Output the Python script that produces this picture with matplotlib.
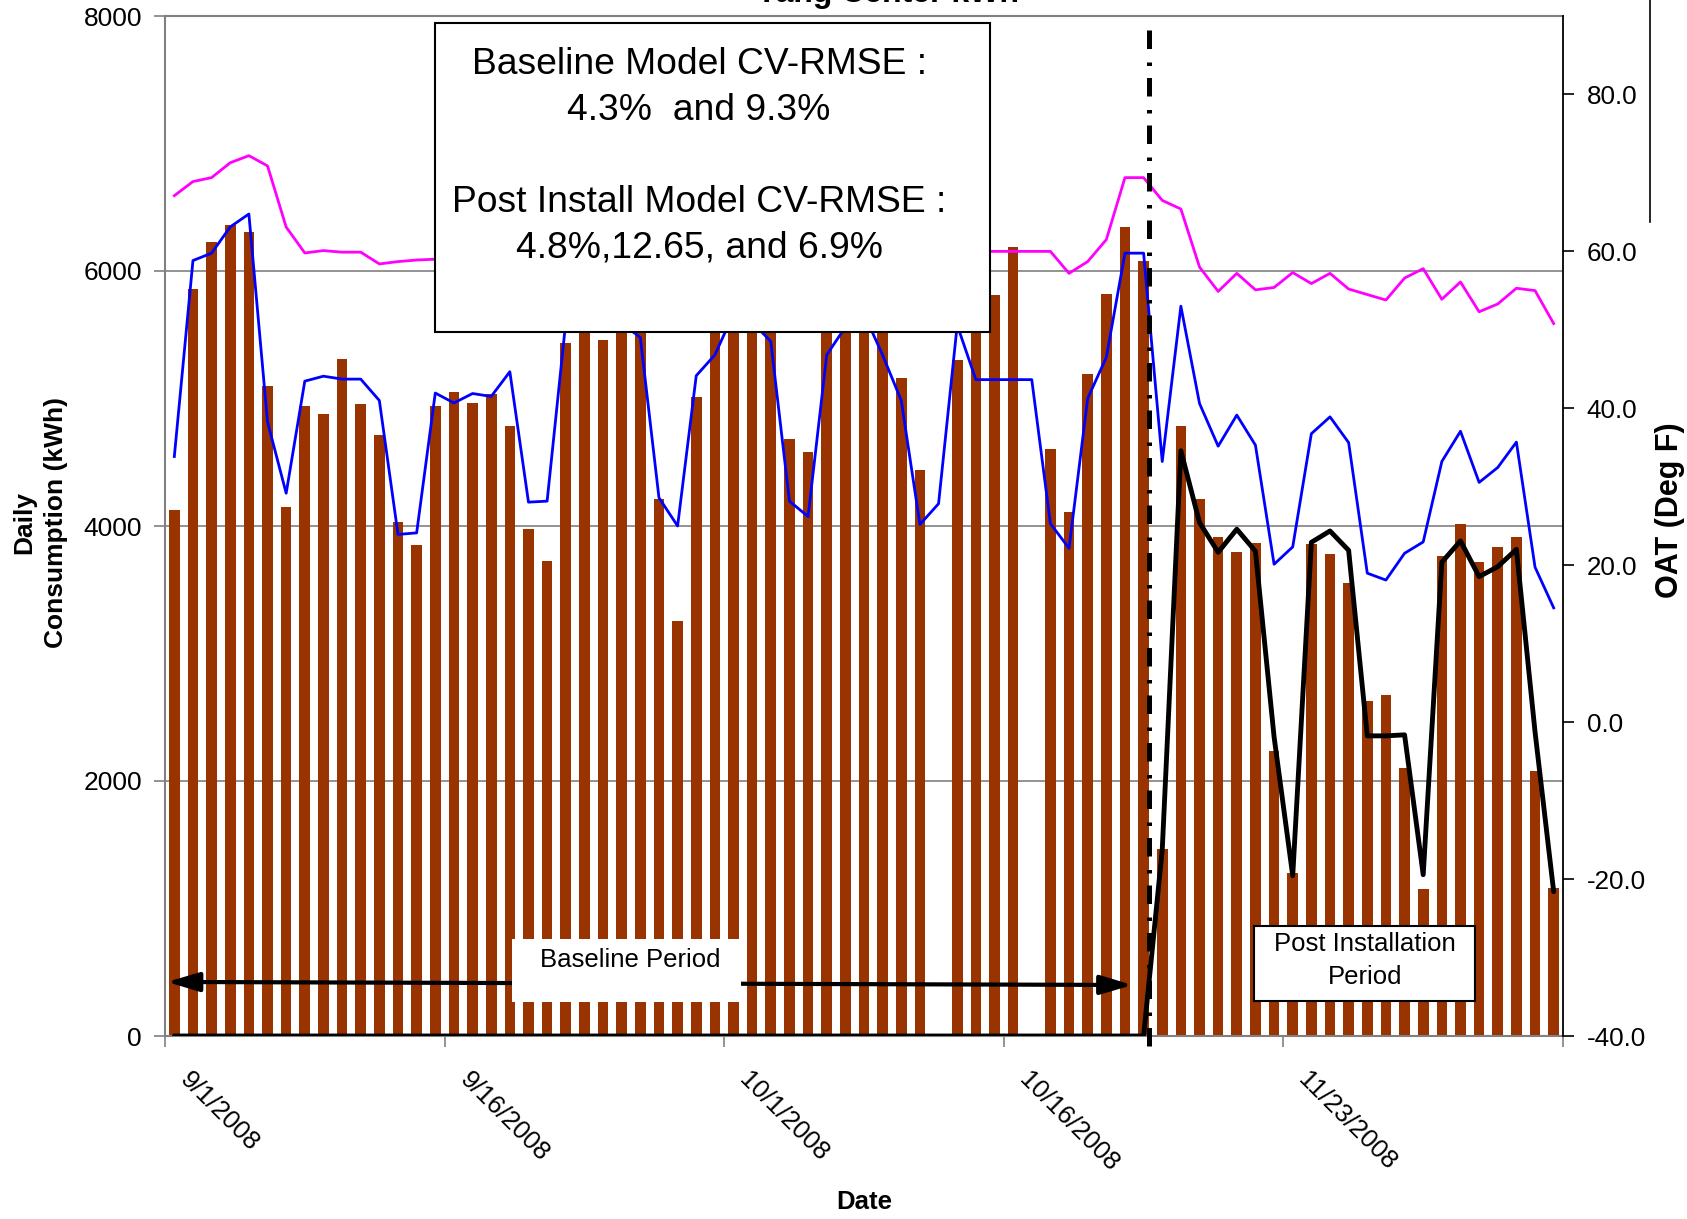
import numpy as np
import matplotlib
matplotlib.use("Agg")
import matplotlib.pyplot as plt
from matplotlib.patches import Rectangle
from matplotlib.lines import Line2D
import matplotlib.transforms as mtransforms

plt.rcParams['font.family'] = ['Liberation Sans', 'DejaVu Sans']
plt.rcParams['axes.unicode_minus'] = False

# ---------------- data ----------------
dates = [
    "9/1/2008", "9/2/2008", "9/3/2008", "9/4/2008", "9/5/2008", "9/6/2008", "9/7/2008",
    "9/8/2008", "9/9/2008", "9/10/2008", "9/11/2008", "9/12/2008", "9/13/2008", "9/14/2008",
    "9/15/2008", "9/16/2008", "9/17/2008", "9/18/2008", "9/19/2008", "9/20/2008", "9/21/2008",
    "9/22/2008", "9/23/2008", "9/24/2008", "9/25/2008", "9/26/2008", "9/27/2008", "9/28/2008",
    "9/29/2008", "9/30/2008", "10/1/2008", "10/2/2008", "10/3/2008", "10/4/2008", "10/5/2008",
    "10/6/2008", "10/7/2008", "10/8/2008", "10/9/2008", "10/10/2008", "10/11/2008", "10/12/2008",
    "10/13/2008", "10/14/2008", "10/15/2008", "10/16/2008", "10/17/2008", "10/18/2008", "10/19/2008",
    "10/20/2008", "10/21/2008", "10/22/2008", "10/23/2008",
    "11/16/2008", "11/17/2008", "11/18/2008", "11/19/2008", "11/20/2008", "11/21/2008", "11/22/2008",
    "11/23/2008", "11/24/2008", "11/25/2008", "11/26/2008", "11/27/2008", "11/28/2008", "11/29/2008",
    "11/30/2008", "12/1/2008", "12/2/2008", "12/3/2008", "12/4/2008", "12/5/2008", "12/6/2008",
    "12/7/2008",
]
tick_dates = ["9/1/2008", "9/16/2008", "10/1/2008", "10/16/2008", "11/23/2008"]

actual_kwh = [
    4125, 5860, 6226, 6362, 6307, 5097, 4148, 4942, 4879, 5307,
    4957, 4716, 4031, 3852, 4942, 5051, 4965, 5035, 4786, 3973,
    3724, 5432, 5700, 5459, 5650, 5600, 4214, 3257, 5008, 5750,
    5850, 5800, 5650, 4681, 4580, 5700, 5900, 5800, 5600, 5163,
    4436, None, 5300, 5600, 5813, 6187, None, 4607, 4109, 5191,
    5821, 6346, 6078, 1463, 4786, 4210, 3914, 3798, 3864, 2237,
    1276, 3856, 3782, 3556, 2626, 2677, 2101, 1156, 3767, 4012,
    3720, 3833, 3914, 2078, 1160,
]
baseline_model_kwh = [
    4545, 6082, 6140, 6346, 6447, 4817, 4257, 5136, 5175, 5152,
    5152, 4984, 3934, 3946, 5043, 4965, 5039, 5016, 5210, 4187,
    4195, 5600, 5800, 5750, 5590, 5479, 4222, 4000, 5179, 5342,
    5665, 5600, 5447, 4195, 4074, 5342, 5560, 5665, 5340, 4984,
    4012, 4175, 5576, 5148, 5148, 5148, 5148, 4019, 3825, 5000,
    5323, 6140, 6140, 4506, 5724, 4961, 4626, 4870, 4634, 3700,
    3836, 4724, 4856, 4654, 3630, 3576, 3786, 3875, 4506, 4743,
    4342, 4459, 4658, 3677, 3358,
]
post_model_kwh = [
    0, 0, 0, 0, 0, 0, 0, 0, 0, 0,
    0, 0, 0, 0, 0, 0, 0, 0, 0, 0,
    0, 0, 0, 0, 0, 0, 0, 0, 0, 0,
    0, 0, 0, 0, 0, 0, 0, 0, 0, 0,
    0, 0, 0, 0, 0, 0, 0, 0, 0, 0,
    0, 0, 0, 1460, 4590, 4027, 3794, 3975, 3802, 2346,
    1257, 3872, 3961, 3809, 2354, 2354, 2362, 1265, 3716, 3883,
    3603, 3681, 3817, 2385, 1132,
]
oat_degf = [
    67.1, 68.9, 69.4, 71.3, 72.2, 70.9, 63.1, 59.8, 60.1, 59.9,
    59.9, 58.4, 58.7, 58.9, 59.0, 59.3, 60.2, 61.0, 62.1, 60.4,
    58.9, 60.7, 62.0, 61.4, 60.8, 59.6, 57.7, 56.9, 59.2, 61.3,
    62.5, 61.8, 59.7, 58.3, 57.6, 59.4, 61.2, 60.9, 59.8, 58.1,
    57.3, 58.6, 60.4, 60.0, 60.0, 60.0, 60.0, 60.0, 57.2, 58.7,
    61.5, 69.4, 69.4, 66.5, 65.4, 58.0, 54.9, 57.2, 55.1, 55.4,
    57.3, 55.9, 57.2, 55.2, 54.5, 53.8, 56.6, 57.8, 53.9, 56.1,
    52.3, 53.3, 55.3, 55.0, 50.8,
]
left_ticks = [0, 2000, 4000, 6000, 8000]
right_ticks = [-40, -20, 0, 20, 40, 60, 80]

# ---------------- layout helpers ----------------
W, H, DPI = 1687, 1219, 100


def fx(px):
    return px / W


def fy(py):
    return 1 - py / H


fig = plt.figure(figsize=(W / DPI, H / DPI), dpi=DPI)
ax = fig.add_axes([fx(165), fy(1036), fx(1563) - fx(165), fy(16) - fy(1036)])

x = np.arange(len(dates))
bar_vals = np.array([np.nan if v is None else v for v in actual_kwh], dtype=float)
ax.bar(x, bar_vals, width=0.57, color='#993300', linewidth=0, zorder=2)
ax.plot(x, baseline_model_kwh, color='#0000FF', lw=2.0, zorder=3,
        solid_joinstyle='round')
ax.plot(x, post_model_kwh, color='black', lw=3.5, zorder=4,
        solid_joinstyle='round', solid_capstyle='round')

ax.set_xlim(-0.5, len(dates) - 0.5)
ax.set_ylim(left_ticks[0], left_ticks[-1])
ax.set_yticks(left_ticks)
ax.set_yticklabels([str(v) for v in left_ticks])
ax.yaxis.grid(True, color='#808080', lw=1.2)
ax.set_axisbelow(True)

# x ticks: marks at category boundaries, labels rotated
label_pos = [dates.index(d) for d in tick_dates]
boundaries = [p - 0.5 for p in label_pos] + [len(dates) - 0.5]
ax.set_xticks(boundaries)
ax.tick_params(axis='x', which='major', length=8, width=1.2, color='#808080',
               labelbottom=False)
ax.set_xticks(label_pos, minor=True)
ax.set_xticklabels(tick_dates, minor=True, rotation=-45, ha='left', va='top',
                   rotation_mode='anchor', fontsize=18.6)
ax.tick_params(axis='x', which='minor', length=0, pad=23)
offset = mtransforms.ScaledTranslation(18 / DPI, 0, fig.dpi_scale_trans)
for lab in ax.get_xticklabels(minor=True):
    lab.set_transform(lab.get_transform() + offset)

ax.tick_params(axis='y', length=8, width=1.2, color='#808080', labelsize=19, pad=8.5)

for s in ['left', 'top', 'bottom']:
    ax.spines[s].set_color('#808080')
    ax.spines[s].set_linewidth(1.5)
ax.spines['right'].set_visible(False)

# secondary axis (OAT)
ax2 = ax.twinx()
ax2.set_ylim(-40, 90)
ax2.set_yticks(right_ticks)
ax2.set_yticklabels([f"{v:.1f}" for v in right_ticks])
ax2.plot(x, oat_degf, color='#FF00FF', lw=2.0, zorder=3, solid_joinstyle='round')
ax2.tick_params(axis='y', length=8, width=1.2, color='black', labelsize=18.7, pad=9)
for s in ['left', 'top', 'bottom']:
    ax2.spines[s].set_visible(False)
ax2.spines['right'].set_color('black')
ax2.spines['right'].set_linewidth(1.3)

# dash-dot separator between baseline and post-installation periods
ax2.plot([52.3, 52.3], [0.986, -0.0167], transform=ax2.get_xaxis_transform(),
         color='black', lw=3.6, linestyle=(0, (3.7, 2.7, 0.7, 2.4)),
         clip_on=False, zorder=6)

# Baseline period double arrow
ax.annotate('', xy=(-0.39, 424), xytext=(51.4, 400),
            arrowprops=dict(arrowstyle='<|-|>,head_length=0.97,head_width=0.29',
                            mutation_scale=20, lw=3.0, color='black',
                            shrinkA=0, shrinkB=0), zorder=5)

# ---------------- figure-level annotations ----------------
fig.add_artist(Rectangle((fx(512), fy(1002)), fx(741) - fx(512), fy(939) - fy(1002),
                         transform=fig.transFigure, facecolor='white',
                         edgecolor='none', zorder=10))
fig.text(fx(630), fy(967), 'Baseline Period', ha='center', va='baseline',
         fontsize=18.5, zorder=11)

fig.add_artist(Rectangle((fx(1254), fy(1001)), fx(1475) - fx(1254), fy(926) - fy(1001),
                         transform=fig.transFigure, facecolor='white',
                         edgecolor='black', lw=1.5, zorder=10))
fig.text(fx(1365), fy(951), 'Post Installation', ha='center', va='baseline',
         fontsize=18.5, zorder=11)
fig.text(fx(1365), fy(984), 'Period', ha='center', va='baseline',
         fontsize=18.5, zorder=11)

fig.add_artist(Rectangle((fx(435), fy(332)), fx(990) - fx(435), fy(23) - fy(332),
                         transform=fig.transFigure, facecolor='white',
                         edgecolor='black', lw=1.5, zorder=10))
for txt, by in [('Baseline Model CV-RMSE :', 74), ('4.3%  and 9.3%', 120),
                ('Post Install Model CV-RMSE :', 212), ('4.8%,12.65, and 6.9%', 257)]:
    fig.text(fx(699), fy(by), txt, ha='center', va='baseline', fontsize=26.8, zorder=11)

# titles
fig.text(fx(888), fy(2), 'Yang Center kWh', ha='center', va='baseline',
         fontsize=23, fontweight='bold')
fig.text(fx(40), fy(523), 'Daily\nConsumption (kWh)', rotation=90, ha='center',
         va='center', multialignment='center', fontsize=19, fontweight='bold',
         linespacing=1.4)
fig.text(fx(864), fy(1202), 'Date', ha='center', va='center', fontsize=18.5,
         fontweight='bold')
fig.text(fx(1670), fy(510), 'OAT (Deg F)', rotation=90, ha='center', va='center',
         fontsize=22, fontweight='bold')

# stray vertical line at the right edge
fig.add_artist(Line2D([fx(1650), fx(1650)], [fy(0), fy(222)], transform=fig.transFigure,
                      color='black', lw=1.2))

fig.savefig('out.png', dpi=DPI)
